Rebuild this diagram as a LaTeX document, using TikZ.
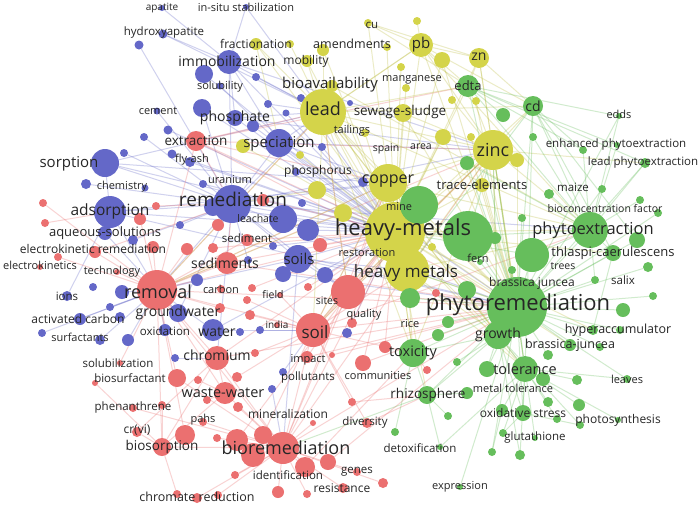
\documentclass[tikz,border=0pt]{standalone}
\usepackage{fontspec}
\setmainfont{Open Sans}
\usetikzlibrary{backgrounds}
\definecolor{vred}{RGB}{235,112,112}
\definecolor{vblue}{RGB}{100,104,200}
\definecolor{vyellow}{RGB}{212,212,74}
\definecolor{vgreen}{RGB}{102,190,92}

\begin{document}
\begin{tikzpicture}[x=1pt,y=-1pt,
		dot/.style={circle, inner sep=0pt, minimum size=#1},
		bluedot/.style={dot=#1, fill=vblue},
		reddot/.style={dot=#1, fill=vred},
		yellowdot/.style={dot=#1, fill=vyellow},
		greendot/.style={dot=#1, fill=vgreen},
		kwtext/.style={text=black!85, inner sep=0pt},
		link/.style={line width=1pt, opacity=.3},
		bluelink/.style={link, draw=vblue},
		redlink/.style={link, draw=vred},
		yellowlink/.style={link, draw=vyellow!90!black},
		greenlink/.style={link, draw=vgreen}]
		\useasboundingbox (0,0) rectangle (700,504);
		
		% blue cluster
		\foreach \n/\x/\y/\dm in {apat/162/8/6, insitu/246/7/6, hydrox/163/34/9, b1/139/45/9, immob/229/62/24, b2/204/74/18, solub/220/86/7, b3/256/77/8, b4/301/98/8, b41/350/103/6, cement/157/111/7, b5/202/108/18, phosph/235/118/16, b6/253/126/12, b7/268/104/8, b8/286/113/7, b9/168/130/9, b10/144/137/8, spec/279/143/28, b11/322/147/8, sorp/105/163/28, b12/124/153/8, b13/172/154/9, flyash/190/162/10, b14/86/184/10, b15/145/188/7, b16/203/184/8, phos/296/172/8, remed/232/204/38, b17/213/207/18, b18/302/203/8, ads/110/212/32, b19/180/225/8, leach/283/219/28, b20/308/230/22, aq/105/233/14, b21/133/240/10, b22/273/246/8, soils/298/259/28, b23/283/274/16, b24/325/275/16, b25/248/260/8, b26/197/280/12, ions/67/296/10, b27/93/287/8, b28/122/292/14, gw/178/313/18, b29/110/307/8, ac/80/319/12, b30/120/317/10, b31/260/330/8, oxid/165/330/12, water/213/330/22, b32/240/332/8, b33/347/333/10, surf/100/340/10, b35/128/340/12, b36/42/333/8, b37/175/358/8, b38/283/372/8, b39/272/389/8, b40/363/182/10}
		\node[bluedot=\dm] (\n) at (\x,\y) {};
		
		% yellow cluster
		\foreach \n/\x/\y/\dm in {fract/256/44/12, y1/290/44/8, mobil/307/61/12, y2/323/50/12, y3/387/47/8, cu/368/23/8, y4/417/21/8, pb/421/45/24, y5/442/60/16, zn/479/58/20, y6/401/67/8, mang/406/88/8, bioav/332/86/12, lead/323/112/46, y7/452/100/8, y8/476/101/8, sewage/403/113/18, tail/365/133/8, y9/443/137/16, y10/471/137/8, zinc/493/150/40, y11/517/160/14, copper/388/183/38, y12/317/190/18, y13/343/213/18, trace/482/185/14, hm1/395/232/60, y14/432/247/8, hm2/407/270/44, y16/243/146/14, y17/300/155/8, y18/408/206/8}
		\node[yellowdot=\dm] (\n) at (\x,\y) {};
		
		% green cluster
		\foreach \n/\x/\y/\dm in {edta/468/86/22, cd/533/106/20, g1/503/115/14, g2/533/137/8, edds/619/116/6, g3/583/150/8, g4/617/145/6, lphyto/645/163/10, g5/467/163/14, g6/419/205/38, g7/549/194/10, g8/602/189/8, g9/522/218/8, g10/640/200/8, g11/658/213/8, g12/468/236/50, phytoex/590/230/36, g13/495/238/12, g14/637/240/16, g15/480/262/6, g16/532/255/34, thlaspi/613/253/16, g17/512/270/8, g18/648/267/10, g19/595/280/8, g20/410/298/20, g21/467/290/18, g22/653/296/8, phytorem/517/307/60, g23/623/310/14, g24/448/322/12, g25/593/330/10, g26/620/330/8, growth/498/335/28, g27/438/335/12, toxic/413/353/28, bjh/570/345/12, g28/548/355/10, g29/600/347/8, g30/457/362/8, tol/525/369/26, g31/487/369/16, g32/543/379/14, leaves/627/379/8, g33/577/380/10, rhizo/427/395/18, g34/467/393/12, g35/548/402/10, g36/579/405/12, g37/448/416/8, ox/523/413/16, g38/502/410/12, g39/557/419/8, g40/580/425/8, g41/618/420/6, g42/395/432/8, g43/503/433/8, g44/535/438/6, g45/440/447/6, g46/492/452/8, g47/520/455/10, g48/460/487/6, g49/532/283/6}
		\node[greendot=\dm] (\n) at (\x,\y) {};
		
		% red cluster
		\foreach \n/\x/\y/\dm in {extr/196/141/20, r1/43/203/8, r2/45/223/8, r3/140/219/12, r4/156/206/8, r5/218/225/12, r6/263/200/12, sedt/247/240/12, r7/320/245/14, ekr/95/252/12, r8/153/247/12, r9/187/249/12, r10/213/248/10, r11/58/257/8, r12/40/267/6, seds/227/263/22, r13/117/272/6, removal/157/290/40, carbon/221/289/8, r14/252/288/8, r15/247/300/8, field/280/295/6, r16/308/287/8, sites/348/292/34, r17/220/308/10, r18/250/315/10, r19/277/325/6, soil/313/330/34, r21/352/323/10, r22/436/293/8, chrom/217/358/24, r23/255/353/8, impact/307/357/12, r24/332/355/6, r25/120/363/6, r26/177/378/18, r27/95/383/6, r28/198/380/8, r29/237/377/10, ww/225/393/22, r30/207/400/8, r31/238/407/10, r32/133/408/8, r33/162/405/8, r34/313/423/6, r35/203/422/8, crvi/137/432/10, r37/185/435/20, r38/217/438/8, bios/162/447/18, r39/237/440/22, r40/263/435/18, r41/253/455/24, biorem/283/448/32, r42/305/467/20, r43/328/462/16, r44/235/475/8, r45/278/492/12, r46/307/494/8, r47/343/488/10, r48/177/494/8, r49/197/498/10, r50/218/495/8, r51/357/472/8, r52/383/483/10, r53/385/347/12, r54/363/363/16, r55/427/370/8, r56/352/402/8, r57/367/423/10}
		\node[reddot=\dm] (\n) at (\x,\y) {};
		
		% keyword labels
		\foreach \n/\x/\y/\fs/\txt in {apat/162/8/10/apatite, insitu/246/7/11/in-situ stabilization, hydrox/164/33/11.5/hydroxyapatite, immob/227/61/14/immobilization, solub/220/87/11/solubility, cement/158/111/11/cement, phosph/235/118/14/phosphate, spec/279/144/15/speciation, sorp/69/164/15/sorption, flyash/192/160/11/fly-ash, chem/122/187/11/chemistry, uran/230/180/11/uranium, phos/318/171/12/phosphorus, remed/233/199/19/remediation, ads/110/211/15.5/adsorption, leach/258/219/10.5/leachate, aq/105/233/13/aqueous-solutions, soils/299/259/15/soils, ions/67/296/11.5/ions, gw/178/313/14/groundwater, ac/78/319/12/activated carbon, oxid/165/331/11.5/oxidation, water/217/332/14/water, surf/80/337/11/surfactants}
		\node[kwtext, font=\fontsize{\fs}{\fs}\selectfont] (\n-t) at (\x,\y) {\txt};
		\foreach \n/\x/\y/\fs/\txt in {fract/256/44/12/fractionation, mobil/306/61/12/mobility, amend/352/44/12.5/amendments, cu/372/25/11.5/cu, pb/421/45/15/pb, zn/479/57/14/zn, mang/412/80/11/manganese, bioav/330/85/15/bioavailability, lead/323/109/18/lead, sewage/400/112/13.5/sewage-sludge, tail/352/131/11/tailings, spain/386/149/10.5/spain, area/421/147/10.5/area, zinc/493/150/18/zinc, copper/388/181/16/copper, trace/482/185/13/trace-elements, hm1/403/230/22/heavy-metals, hm2/406/273/17/heavy metals, mine/399/207/11/mine, restor/367/253/11/restoration}
		\node[kwtext, font=\fontsize{\fs}{\fs}\selectfont] (\n-t) at (\x,\y) {\txt};
		\foreach \n/\x/\y/\fs/\txt in {edta/468/86/13/edta, cd/533/106/14/cd, edds/619/114/11/edds, ephyto/616/145/11.5/enhanced phytoextraction, lphyto/643/163/11.5/lead phytoextraction, maize/573/187/11.5/maize, bcf/605/209/10.5/bioconcentration factor, phytoex/593/230/16.5/phytoextraction, fern/478/258/11/fern, thlaspi/613/253/13/thlaspi-caerulescens, trees/563/266/10.5/trees, bj/532/283/12/brassica juncea, salix/623/280/11.5/salix, phytorem/518/305/22/phytoremediation, hyper/618/330/12.5/hyperaccumulator, growth/498/335/14/growth, toxic/413/353/14.5/toxicity, bjh/570/345/12.5/brassica-juncea, tol/525/369/14.5/tolerance, leaves/627/379/11/leaves, rhizo/428/395/13.5/rhizosphere, mt/513/388/11/metal tolerance, ox/523/413/12/oxidative stress, photo/618/420/12/photosynthesis, gluta/535/438/11.5/glutathione, detox/420/448/11.5/detoxification, expr/460/487/11/expression, rice/410/324/11/rice}
		\node[kwtext, font=\fontsize{\fs}{\fs}\selectfont] (\n-t) at (\x,\y) {\txt};
		\foreach \n/\x/\y/\fs/\txt in {extr/196/141/13.5/extraction, sedt/247/238/11.5/sediment, ekr/93/249/12/electrokinetic remediation, ek/40/265/11/electrokinetics, seds/225/263/14/sediments, tech/112/272/11/technology, removal/158/292/18/removal, carbon/221/289/11/carbon, field/273/295/10.5/field, sites/327/301/10.5/sites, india/277/325/10/india, soil/315/332/17/soil, quality/364/315/11/quality, chrom/217/355/14/chromium, impact/308/360/11/impact, solubz/118/363/11.5/solubilization, biosurf/130/378/11.5/biosurfactant, pollut/308/378/11.5/pollutants, ww/223/393/14.5/waste-water, phen/133/408/11.5/phenanthrene, miner/288/414/12/mineralization, pahs/203/420/11/pahs, crvi/137/430/12/{cr(vi)}, bios/162/447/13.5/biosorption, biorem/286/448/18/bioremediation, ident/288/475/11.5/identification, chromr/197/497/12.5/chromate reduction, genes/357/472/11.5/genes, resist/342/488/12/resistance, commun/378/376/11/communities, divers/365/423/11.5/diversity}
		\node[kwtext, font=\fontsize{\fs}{\fs}\selectfont] (\n-t) at (\x,\y) {\txt};
		
		% links behind the dots
		\begin{scope}[on background layer]
			\fill[white] (0,0) rectangle (700,504);
			\foreach \a/\b in {immob/hm1, immob/lead, immob/spec, immob/remed, immob/phosph, hydrox/immob, hydrox/lead, b2/hm1, phosph/lead, phosph/hm1, b5/hm1, b5/remed, spec/hm1, spec/lead, spec/copper, spec/zinc, spec/remed, sorp/hm1, sorp/ads, sorp/remed, sorp/lead, ads/hm1, ads/remed, ads/removal, ads/copper, aq/removal, aq/ads, remed/hm1, remed/lead, remed/soils, remed/copper, remed/zinc, remed/phytorem, remed/sites, remed/removal, leach/hm1, soils/hm1, soils/phytorem, soils/sites, soils/removal, soils/hm2, water/removal, water/soil, gw/removal, gw/remed, ac/removal, ions/ads, b20/hm1, b24/hm1, flyash/hm1, solub/spec, b17/hm1, oxid/removal, water/hm1, b13/hm1, apat/immob, insitu/immob, insitu/lead, b1/remed, cement/remed, b9/hm1, b10/remed, b12/remed, b14/remed, b3/lead, b4/hm1, b6/hm1, b7/lead, b8/hm1, b11/hm1, b16/hm1, b18/hm1, b19/remed, b21/remed, b22/hm1, b23/phytorem, b25/remed, b26/removal, b28/removal, b29/removal, b31/soil, b33/hm1, b35/removal, b36/removal, b37/chrom, b38/soil, b39/biorem, b40/hm1, surf/removal, phos/hm1, spec/phytorem, soils/biorem, ads/phytorem, remed/chrom, remed/phytoex, sorp/copper, immob/zinc, phosph/zinc}
			\draw[bluelink] (\a) -- (\b);
			\foreach \a/\b in {removal/chrom, removal/biorem, removal/sedt, removal/extr, removal/hm1, removal/seds, removal/ww, removal/bios, removal/soil, extr/hm1, extr/lead, extr/copper, extr/remed, extr/zinc, soil/hm1, soil/phytorem, soil/biorem, soil/sites, soil/hm2, soil/toxic, sites/hm1, sites/phytorem, sites/lead, sites/zinc, biorem/hm1, biorem/phytorem, biorem/sites, biorem/chrom, biorem/ww, biorem/bios, biorem/r41, biorem/r42, ww/chrom, chrom/hm1, chrom/bios, bios/ww, seds/hm1, seds/remed, r37/removal, r39/hm1, crvi/chrom, crvi/bios, ekr/removal, ekr/remed, r32/biorem, r26/removal, r26/biorem, r54/hm1, r54/phytorem, r53/hm1, r43/phytorem, r40/soil, sedt/hm1, r7/hm1, impact/hm1, impact/phytorem, r57/soil, r56/soil, r21/hm1, r42/toxic, r22/phytorem, r1/removal, r2/ads, r3/removal, r4/remed, r5/remed, r6/hm1, r8/removal, r9/removal, r10/hm1, r11/removal, r13/removal, r14/hm1, r15/soil, field/soil, r16/hm1, r17/removal, r18/soil, r19/soil, r23/soil, r24/phytorem, r25/removal, r27/bios, r28/ww, r29/soil, r30/ww, r31/biorem, r33/bios, r34/biorem, r35/biorem, r38/biorem, r44/biorem, r45/biorem, r46/biorem, r47/biorem, r48/bios, r49/biorem, r50/biorem, r51/biorem, r52/biorem, r55/toxic, r56/rhizo, r57/rhizo, soil/zinc, soil/copper, soil/phytoex, removal/phytorem, removal/lead, removal/zinc, removal/copper, chrom/phytorem, biorem/zinc, biorem/copper, sites/copper, seds/phytorem, extr/phytorem, extr/edta}
			\draw[redlink] (\a) -- (\b);
			\foreach \a/\b in {lead/hm1, lead/zinc, lead/copper, lead/pb, lead/phytoex, lead/edta, lead/phytorem, lead/soil, lead/hm2, lead/cd, zinc/hm1, zinc/phytoex, zinc/phytorem, zinc/cd, zinc/copper, zinc/edta, zinc/soil, zinc/hm2, zinc/lphyto, copper/hm1, copper/phytorem, copper/soil, copper/phytoex, copper/removal, hm1/phytorem, hm1/phytoex, hm1/hm2, hm1/soil, hm1/growth, hm1/tol, hm1/toxic, hm1/thlaspi, hm1/edta, hm1/cd, hm2/phytorem, hm2/phytoex, hm2/toxic, pb/zn, pb/cd, pb/edta, pb/hm1, pb/zinc, pb/phytorem, zn/cd, zn/edta, zn/phytorem, zn/hm1, cu/pb, cu/hm1, cu/zn, y2/hm1, y2/lead, mobil/lead, mobil/hm1, fract/spec, fract/lead, bioav/hm1, bioav/lead, bioav/phytoex, sewage/hm1, sewage/zinc, sewage/phytorem, trace/hm1, trace/phytorem, y5/hm1, y5/phytorem, y9/phytorem, y13/removal, y12/remed, mang/hm1, y3/hm1, y4/pb, y1/lead, y6/hm1, y7/zinc, y8/phytorem, y9/hm1, y10/phytorem, y11/phytorem, y12/hm1, y13/hm1, y14/phytorem, y16/hm1, y17/hm1, y18/phytorem, tail/hm1, fract/hm1, cu/edta, zn/zinc, lead/growth, lead/tol, lead/toxic, zinc/tol, zinc/toxic, zinc/growth, copper/toxic, copper/growth, hm1/rhizo, hm1/bjh, hm1/g25, hm2/growth, hm2/tol, pb/lead, pb/phytoex, lead/sites, lead/removal, zinc/sites}
			\draw[yellowlink] (\a) -- (\b);
			\foreach \a/\b in {phytorem/phytoex, phytorem/growth, phytorem/tol, phytorem/toxic, phytorem/rhizo, phytorem/g25, phytorem/thlaspi, phytorem/bjh, phytorem/edta, phytorem/cd, phytorem/g12, phytorem/g16, phytorem/g23, phytorem/g22, phytorem/g18, phytorem/leaves, phytorem/ox, phytorem/g48, phytorem/g8, phytorem/g11, phytoex/edta, phytoex/cd, phytoex/thlaspi, phytoex/lphyto, phytoex/g4, phytoex/edds, phytoex/g10, phytoex/g19, phytoex/g7, phytoex/g3, edta/lphyto, edta/g4, edta/g3, cd/g3, cd/thlaspi, cd/g14, tol/growth, tol/ox, tol/g44, tol/g43, tol/leaves, tol/g41, tol/g36, growth/toxic, growth/ox, growth/g40, toxic/rhizo, toxic/g42, rhizo/g45, rhizo/biorem, g12/hm1, g16/hm1, g6/hm1, g20/hm1, g21/hm2, g31/growth, thlaspi/g25, g12/phytoex, ox/g43, ox/g40, g38/g46, tol/g47, edds/edta, g5/zinc, g1/edta, g2/phytoex, g9/phytorem, g13/phytorem, g14/phytorem, g15/phytorem, g17/phytorem, g19/phytorem, g20/phytorem, g21/phytorem, g24/phytorem, g26/phytorem, g27/phytorem, g28/phytorem, g29/phytorem, g30/growth, g31/phytorem, g32/tol, g33/tol, g34/rhizo, g35/tol, g37/rhizo, g38/tol, g39/tol, g45/tol, g46/phytorem, g47/growth, g49/phytorem, growth/rhizo, growth/zinc, tol/zinc, tol/cd, cd/hm2, g16/phytoex, g12/zinc, g6/copper, phytoex/g5, phytorem/g5, phytorem/lphyto, phytorem/edds}
			\draw[greenlink] (\a) -- (\b);
		\end{scope}
	\end{tikzpicture}
\end{document}
